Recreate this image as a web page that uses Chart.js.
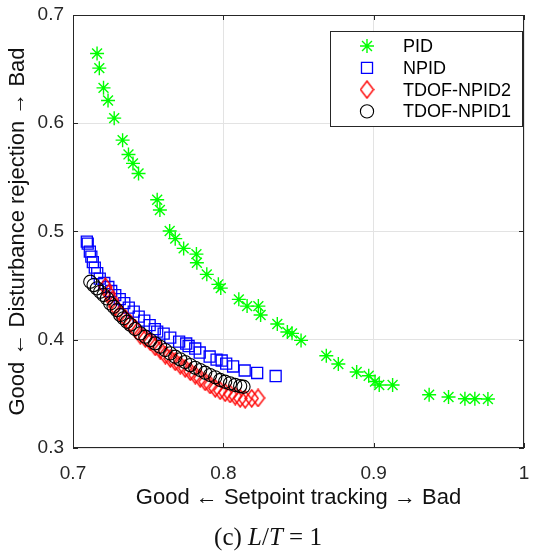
<!DOCTYPE html>
<html>
<head>
<meta charset="utf-8">
<script src="https://cdn.jsdelivr.net/npm/chart.js@4"></script>
<style>
  html, body { margin: 0; padding: 0; background: #fff; }
  #wrap { position: relative; width: 536px; height: 551px; }
  #caption {
    position: absolute; left: 0; top: 523px; width: 536px; line-height: 28px;
    text-align: center; font-family: "Liberation Serif", "Times New Roman", serif;
    font-size: 25px; color: #111;
  }
</style>
</head>
<body>
<div id="wrap">
  <canvas id="chart" width="536" height="551"></canvas>
  <div id="caption">(c) <i>L</i>/<i>T</i> = 1</div>
</div>
<script>
const seriesNames = ['PID', 'NPID', 'TDOF-NPID2', 'TDOF-NPID1'];

const pidX = [0.716, 0.7175, 0.7203, 0.7233, 0.7274, 0.733, 0.7369, 0.7399, 0.7436, 0.756, 0.7578, 0.7643, 0.768, 0.7736, 0.7821, 0.7824, 0.789, 0.7967, 0.7983, 0.8103, 0.8158, 0.8233, 0.8248, 0.8359, 0.8426, 0.8457, 0.8517, 0.8685, 0.8765, 0.8887, 0.8967, 0.9009, 0.9037, 0.9126, 0.9369, 0.9498, 0.9607, 0.9673, 0.976];
const pidY = [0.6644, 0.6509, 0.6327, 0.621, 0.6047, 0.5844, 0.5712, 0.5629, 0.5536, 0.5293, 0.5198, 0.5004, 0.4934, 0.4844, 0.4791, 0.4711, 0.4604, 0.4512, 0.4477, 0.4373, 0.4311, 0.4311, 0.4228, 0.4145, 0.4071, 0.4059, 0.3994, 0.3852, 0.3776, 0.3702, 0.3668, 0.3614, 0.3582, 0.3582, 0.3492, 0.3471, 0.3455, 0.3455, 0.3452];

const npidX = [0.7092, 0.7098, 0.7112, 0.7122, 0.7132, 0.7145, 0.7161, 0.7178, 0.7208, 0.7235, 0.7254, 0.7281, 0.7311, 0.7341, 0.7371, 0.7404, 0.7437, 0.7474, 0.751, 0.7544, 0.756, 0.7603, 0.7647, 0.7706, 0.7753, 0.7769, 0.7813, 0.7843, 0.7909, 0.7955, 0.7989, 0.8019, 0.8065, 0.8142, 0.8225, 0.8348];
const npidY = [0.4907, 0.4888, 0.4814, 0.4768, 0.4717, 0.4667, 0.4616, 0.4565, 0.4524, 0.4487, 0.445, 0.4413, 0.4376, 0.4339, 0.4297, 0.426, 0.4214, 0.4177, 0.4135, 0.4098, 0.4075, 0.4057, 0.402, 0.3983, 0.3965, 0.3942, 0.3919, 0.3882, 0.3845, 0.3817, 0.3808, 0.378, 0.3753, 0.3716, 0.3693, 0.3665];

const npid2X = [0.7215, 0.7237, 0.7259, 0.7281, 0.7314, 0.7348, 0.7381, 0.7414, 0.7447, 0.7481, 0.7514, 0.7547, 0.758, 0.7614, 0.7647, 0.768, 0.7713, 0.7746, 0.778, 0.7813, 0.7846, 0.7879, 0.7912, 0.7946, 0.7979, 0.8012, 0.8045, 0.8079, 0.8112, 0.8145, 0.8189, 0.8231];
const npid2Y = [0.4489, 0.4428, 0.4367, 0.4305, 0.4244, 0.4198, 0.4151, 0.4105, 0.4043, 0.4013, 0.3982, 0.3935, 0.3905, 0.3859, 0.3828, 0.3797, 0.3766, 0.3736, 0.3705, 0.3674, 0.3644, 0.3612, 0.3582, 0.3551, 0.3529, 0.3511, 0.3499, 0.348, 0.3459, 0.345, 0.3459, 0.3462];

const npid1X = [0.7115, 0.7137, 0.7159, 0.7181, 0.7203, 0.7226, 0.7248, 0.727, 0.7292, 0.7314, 0.7336, 0.7359, 0.7381, 0.7414, 0.7447, 0.7481, 0.7514, 0.7547, 0.758, 0.7614, 0.7647, 0.768, 0.7713, 0.7746, 0.778, 0.7813, 0.7846, 0.7879, 0.7912, 0.7946, 0.7979, 0.8012, 0.8045, 0.8079, 0.8112, 0.8134];
const npid1Y = [0.4536, 0.4505, 0.4475, 0.4443, 0.4413, 0.4382, 0.4336, 0.4305, 0.4274, 0.4228, 0.4198, 0.4166, 0.414, 0.4099, 0.4059, 0.4028, 0.3997, 0.3967, 0.3935, 0.3905, 0.3874, 0.3843, 0.3819, 0.3794, 0.3766, 0.3741, 0.372, 0.3695, 0.3674, 0.3653, 0.3628, 0.3612, 0.3597, 0.3582, 0.3572, 0.3566];

const xTicks = [0.7, 0.8, 0.9, 1];
const xTickLabels = ['0.7', '0.8', '0.9', '1'];
const yTicks = [0.3, 0.4, 0.5, 0.6, 0.7];
const yTickLabels = ['0.3', '0.4', '0.5', '0.6', '0.7'];

const xTitle = 'Good \u2190 Setpoint tracking \u2192 Bad';
const yTitle = 'Good \u2190 Disturbance rejection \u2192 Bad';

const axisColor = '#262626';
const gridColor = '#e3e3e3';
const font = '"Liberation Sans", Arial, sans-serif';

function toPoints(xs, ys) {
    return xs.map((x, i) => ({ x: x, y: ys[i] }));
}

// tall MATLAB-like diamond marker
function diamondMarker(color) {
    const c = document.createElement('canvas');
    c.width = 15;
    c.height = 19;
    const g = c.getContext('2d');
    g.strokeStyle = color;
    g.lineWidth = 1.4;
    g.beginPath();
    g.moveTo(7.5, 1);
    g.lineTo(14, 9.5);
    g.lineTo(7.5, 18);
    g.lineTo(1, 9.5);
    g.closePath();
    g.stroke();
    return c;
}

const boxPlugin = {
    id: 'box',
    afterDraw(chart) {
        const ctx = chart.ctx;
        const a = chart.chartArea;
        const xs = chart.scales.x, ys = chart.scales.y;
        ctx.save();
        ctx.strokeStyle = axisColor;
        ctx.lineWidth = 1;
        ctx.strokeRect(a.left + 0.5, a.top + 0.5, a.right - a.left - 1, a.bottom - a.top - 1);
        ctx.beginPath();
        xTicks.forEach(v => {
            const px = Math.round(xs.getPixelForValue(v)) + 0.5;
            ctx.moveTo(px, a.bottom); ctx.lineTo(px, a.bottom - 5);
            ctx.moveTo(px, a.top); ctx.lineTo(px, a.top + 5);
        });
        yTicks.forEach(v => {
            const py = Math.round(ys.getPixelForValue(v)) + 0.5;
            ctx.moveTo(a.left, py); ctx.lineTo(a.left + 5, py);
            ctx.moveTo(a.right, py); ctx.lineTo(a.right - 5, py);
        });
        ctx.stroke();

        // legend box
        const lx = 330, ly = 31, lw = 192, lh = 95;
        ctx.fillStyle = '#fff';
        ctx.fillRect(lx, ly, lw, lh);
        ctx.strokeRect(lx + 0.5, ly + 0.5, lw, lh);
        ctx.font = '18px ' + font;
        ctx.textBaseline = 'middle';
        ctx.textAlign = 'left';
        chart.data.datasets.forEach((ds, i) => {
            const yy = 46 + i * 21.8;
            ctx.save();
            ctx.strokeStyle = ds.borderColor;
            ctx.fillStyle = 'rgba(0,0,0,0)';
            ctx.lineWidth = ds.borderWidth;
            Chart.helpers.drawPoint(ctx, { pointStyle: ds.pointStyle, radius: ds.pointRadius, rotation: 0, borderWidth: ds.borderWidth }, 367, yy);
            ctx.restore();
            ctx.fillStyle = '#000';
            ctx.fillText(ds.label, 403, yy + 1);
        });
        ctx.restore();
    }
};

new Chart(document.getElementById('chart'), {
    type: 'scatter',
    data: {
        datasets: [
            { label: seriesNames[0], data: toPoints(pidX, pidY), pointStyle: 'star', pointRadius: 7, borderColor: '#00ff00', backgroundColor: 'rgba(0,0,0,0)', borderWidth: 1.4, order: 4 },
            { label: seriesNames[1], data: toPoints(npidX, npidY), pointStyle: 'rect', pointRadius: 7.8, borderColor: '#0000ff', backgroundColor: 'rgba(0,0,0,0)', borderWidth: 1.3, order: 3 },
            { label: seriesNames[2], data: toPoints(npid2X, npid2Y), pointStyle: diamondMarker('#ff0000'), pointRadius: 8, borderColor: '#ff0000', backgroundColor: 'rgba(0,0,0,0)', borderWidth: 1.4, order: 2 },
            { label: seriesNames[3], data: toPoints(npid1X, npid1Y), pointStyle: 'circle', pointRadius: 6.6, borderColor: '#000000', backgroundColor: 'rgba(0,0,0,0)', borderWidth: 1.1, order: 1 }
        ]
    },
    options: {
        responsive: false,
        animation: false,
        devicePixelRatio: 1,
        layout: { padding: { left: 0, right: 12, top: 15, bottom: 40 } },
        plugins: { legend: { display: false }, tooltip: { enabled: false } },
        scales: {
            x: {
                type: 'linear', min: 0.7, max: 1,
                afterBuildTicks: s => { s.ticks = xTicks.map(v => ({ value: v })); },
                afterFit: s => { s.height = 63; s.paddingLeft = 0; s.paddingRight = 0; },
                ticks: { callback: (v, i) => xTickLabels[i], color: axisColor, padding: 14, font: { family: font, size: 19 }, maxRotation: 0 },
                grid: { color: gridColor, drawTicks: false },
                border: { display: false },
                title: { display: true, text: xTitle, color: '#111', font: { family: font, size: 22 }, padding: { top: 0, bottom: 0 } }
            },
            y: {
                type: 'linear', min: 0.3, max: 0.7,
                afterBuildTicks: s => { s.ticks = yTicks.map(v => ({ value: v })); },
                afterFit: s => { s.width = 73; s.paddingTop = 0; s.paddingBottom = 0; },
                ticks: { callback: (v, i) => yTickLabels[i], color: axisColor, padding: 9, font: { family: font, size: 19 } },
                grid: { color: gridColor, drawTicks: false },
                border: { display: false },
                title: { display: true, text: yTitle, color: '#111', font: { family: font, size: 22 }, padding: { top: 5, bottom: 0 } }
            }
        }
    },
    plugins: [boxPlugin]
});
</script>
</body>
</html>
